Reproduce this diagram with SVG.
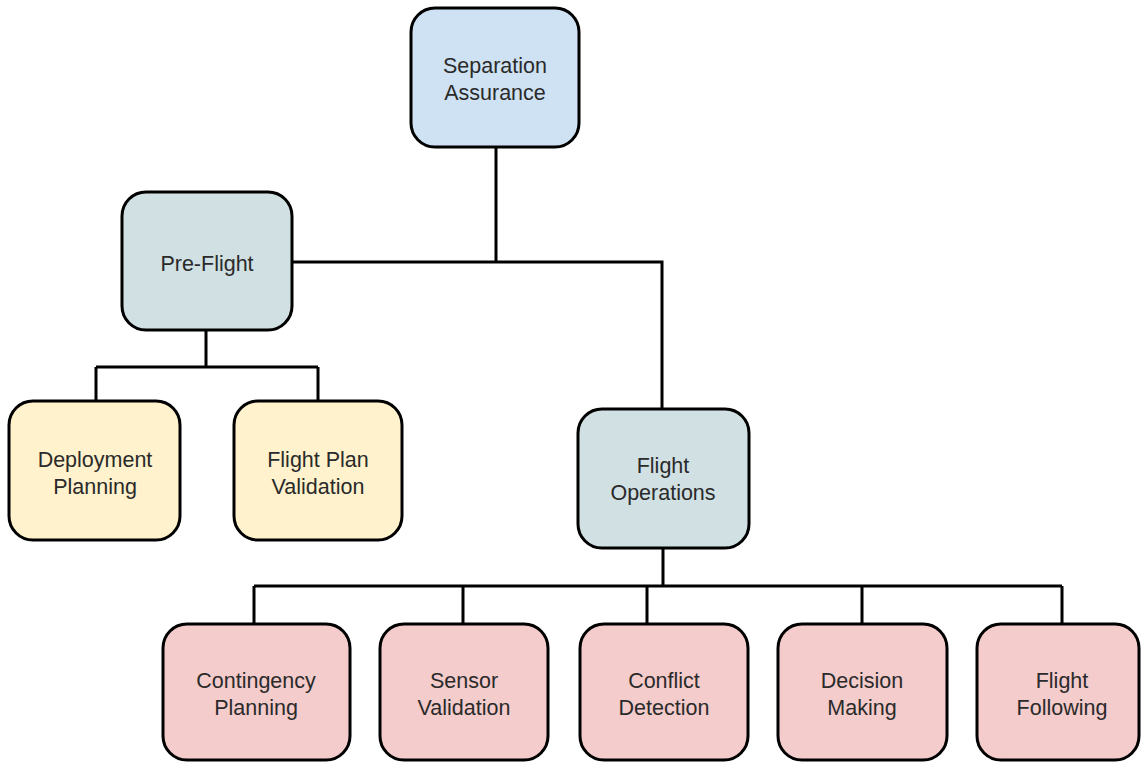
<svg xmlns="http://www.w3.org/2000/svg" width="1141" height="762" viewBox="0 0 1141 762">
<style>
.box{stroke:#000;stroke-width:3}
.blue{fill:#cfe2f3}
.teal{fill:#d0e0e3}
.yellow{fill:#fff2cc}
.pink{fill:#f4cccc}
text{font-family:"Liberation Sans",Arial,sans-serif;font-size:21.5px;fill:#2a2a2a;text-anchor:middle}
.conn{fill:none;stroke:#000;stroke-width:3}
</style>
<rect width="1141" height="762" fill="#fff"/>
<g id="connectors" class="conn">
<path d="M496 147 V262 M292 262 H662 V409"/>
<path d="M206 330 V367 M96 367 H318 M96 367 V401 M318 367 V401"/>
<path d="M663 548 V586 M254 586 H1062 M254 586 V624 M463 586 V624 M647 586 V624 M862 586 V624 M1062 586 V624"/>
</g>
<g id="separation-assurance"><rect class="box blue" x="411" y="8" width="168" height="139" rx="24"/><text x="495" y="73">Separation</text><text x="495" y="100">Assurance</text></g>
<g id="pre-flight"><rect class="box teal" x="122" y="192" width="170" height="138" rx="24"/><text x="207" y="271">Pre-Flight</text></g>
<g id="flight-operations"><rect class="box teal" x="578" y="409" width="171" height="139" rx="24"/><text x="663" y="473">Flight</text><text x="663" y="500">Operations</text></g>
<g id="deployment-planning"><rect class="box yellow" x="9" y="401" width="171" height="139" rx="24"/><text x="95" y="467">Deployment</text><text x="95" y="494">Planning</text></g>
<g id="flight-plan-validation"><rect class="box yellow" x="234" y="401" width="168" height="139" rx="24"/><text x="318" y="467">Flight Plan</text><text x="318" y="494">Validation</text></g>
<g id="contingency-planning"><rect class="box pink" x="163" y="624" width="187" height="136" rx="24"/><text x="256" y="688">Contingency</text><text x="256" y="715">Planning</text></g>
<g id="sensor-validation"><rect class="box pink" x="380" y="624" width="168" height="136" rx="24"/><text x="464" y="688">Sensor</text><text x="464" y="715">Validation</text></g>
<g id="conflict-detection"><rect class="box pink" x="580" y="624" width="168" height="136" rx="24"/><text x="664" y="688">Conflict</text><text x="664" y="715">Detection</text></g>
<g id="decision-making"><rect class="box pink" x="778" y="624" width="169" height="136" rx="24"/><text x="862" y="688">Decision</text><text x="862" y="715">Making</text></g>
<g id="flight-following"><rect class="box pink" x="977" y="624" width="162" height="136" rx="24"/><text x="1062" y="688">Flight</text><text x="1062" y="715">Following</text></g>
</svg>
